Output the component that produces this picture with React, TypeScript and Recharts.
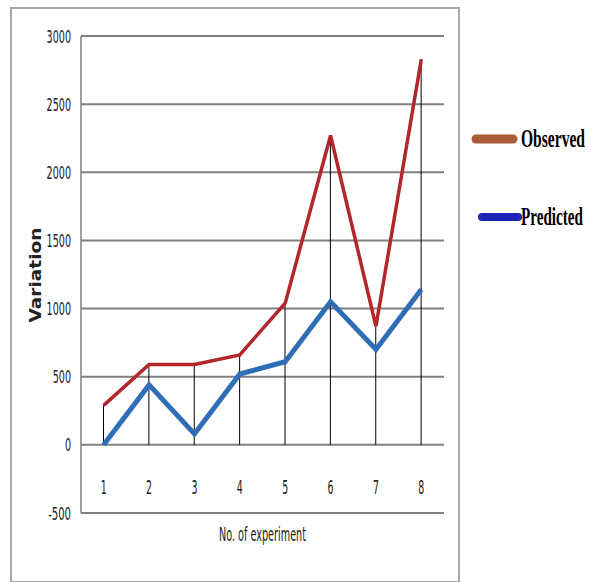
import { Bar, CartesianGrid, ComposedChart, Legend, Line, XAxis, YAxis } from "recharts"

const experiments = ["1", "2", "3", "4", "5", "6", "7", "8"]
const observed = [290, 590, 590, 660, 1040, 2270, 870, 2830]
const predicted = [0, 440, 80, 520, 610, 1050, 700, 1140]
const yTicks = [-500, 0, 500, 1000, 1500, 2000, 2500, 3000]

const data = experiments.map((exp, i) => ({ exp, observed: observed[i], predicted: predicted[i] }))

const narrow = "'Liberation Sans Narrow', 'DejaVu Sans Condensed', sans-serif"

const YTick = (props: any) => {
  const { x, y, payload } = props
  const s = String(payload.value)
  // squeeze the digits like the original stretched image
  const len = s.replace("-", "").length * 6.1 + (s.startsWith("-") ? 4.5 : 0)
  return (
    <text x={x} y={y + 6.5} textAnchor="end" fontFamily={narrow} fontSize={18} fill="#222"
      textLength={len} lengthAdjust="spacingAndGlyphs">
      {s}
    </text>
  )
}

const XTick = (props: any) => {
  const { x, y, payload } = props
  return (
    <text x={x} y={y - 19} textAnchor="middle" fontFamily={narrow} fontSize={20} fill="#222"
      textLength={6} lengthAdjust="spacingAndGlyphs">
      {payload.value}
    </text>
  )
}

const LegendBox = () => (
  <svg width={124} height={120} style={{ overflow: "visible" }}>
    <line x1={10} y1={22} x2={47} y2={22} stroke="#a95d36" strokeWidth={9} strokeLinecap="round" />
    <text x={55} y={30} fontFamily="'Liberation Serif', serif" fontWeight="bold" fontSize={26} fill="#000"
      textLength={64} lengthAdjust="spacingAndGlyphs">Observed</text>
    <line x1={16} y1={100} x2={52} y2={100} stroke="#1c24b8" strokeWidth={8} strokeLinecap="round" />
    <text x={55} y={108} fontFamily="'Liberation Serif', serif" fontWeight="bold" fontSize={26} fill="#000"
      textLength={62} lengthAdjust="spacingAndGlyphs">Predicted</text>
  </svg>
)

export default function App() {
  return (
    <div style={{ position: "absolute", left: 0, top: 0, width: 592, height: 582, background: "#fff" }}>
      <div style={{ position: "absolute", left: 10, top: 7, width: 446, height: 572, border: "2px solid #a8a8a8" }} />
      <ComposedChart width={592} height={582} data={data} margin={{ top: 36, right: 148, left: 11, bottom: 29 }}>
        <CartesianGrid vertical={false} stroke="#808080" strokeWidth={2} />
        <XAxis
          dataKey="exp"
          axisLine={false}
          tickLine={false}
          tickSize={0}
          tickMargin={0}
          height={40}
          tick={<XTick />}
          label={{
            content: (p: any) => {
              const vb = p.viewBox
              return (
                <text x={vb.x + vb.width / 2} y={vb.y + 28} textAnchor="middle" fontFamily={narrow} fontSize={19}
                  fill="#222" textLength={87} lengthAdjust="spacingAndGlyphs">
                  No. of experiment
                </text>
              )
            },
          }}
        />
        <YAxis
          domain={[-500, 3000]}
          ticks={yTicks}
          width={70}
          tickLine={false}
          tickSize={0}
          tickMargin={10}
          axisLine={{ stroke: "#808080", strokeWidth: 1.5 }}
          tick={<YTick />}
          label={{
            content: () => (
              <text x={41} y={275} textAnchor="middle" transform="rotate(-90 41 275)" fontFamily="'DejaVu Sans', sans-serif"
                fontWeight="bold" fontSize={15} fill="#222" textLength={95} lengthAdjust="spacingAndGlyphs">
                Variation
              </text>
            ),
          }}
        />
        <Legend layout="vertical" align="center" verticalAlign="middle" content={<LegendBox />}
          wrapperStyle={{ left: 466, top: 117, width: 124, height: 120 }} />
        <Bar dataKey="observed" barSize={1} fill="#000" legendType="none" isAnimationActive={false} />
        <Line type="linear" dataKey="predicted" stroke="#2f6eb6" strokeWidth={5} dot={false} isAnimationActive={false} />
        <Line type="linear" dataKey="observed" stroke="#b3262b" strokeWidth={3.5} dot={false} isAnimationActive={false} />
      </ComposedChart>
    </div>
  )
}
